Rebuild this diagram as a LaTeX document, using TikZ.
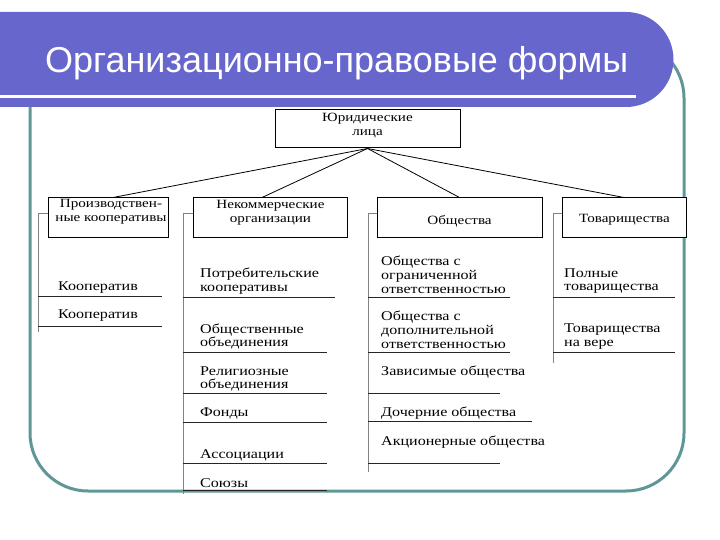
\documentclass[tikz,border=0pt]{standalone}
\usepackage{fontspec}
\setmainfont{Liberation Serif}[FakeStretch=1.2]
\newfontfamily\titlefont{Liberation Sans}
\usetikzlibrary{positioning}
\definecolor{barblue}{RGB}{102,102,204}
\definecolor{frameteal}{RGB}{95,150,150}
\definecolor{spinegray}{RGB}{130,130,130}

\begin{document}
\begin{tikzpicture}[x=1pt, y=-1pt,
  bx/.style={draw=black, line width=1pt, fill=white, inner sep=0pt, minimum height=39pt},
  bt/.style={font=\fontsize{12.6}{14}\selectfont, align=center, inner sep=0pt},
  it/.style={font=\fontsize{13.4}{13.8}\selectfont, align=left, anchor=west, inner sep=0pt},
  ul/.style={draw=black!85, line width=0.9pt},
  sp/.style={draw=spinegray, line width=0.8pt},
  ln/.style={draw=black, line width=0.8pt}]
  \useasboundingbox (0,0) rectangle (720,540);
  % frame and title bar
  \draw[frameteal, line width=3pt, rounded corners=58pt] (30,40) rectangle (684,491);
  \fill[barblue] (0,12) -- (626,12) arc[start angle=-90, end angle=90, radius=47.5] -- (0,107) -- cycle;
  \draw[white, line width=2.5pt] (0,96.5) -- (636,96.5);
  \node[anchor=base west, text=white, font=\titlefont\fontsize{36}{40}\selectfont, inner sep=0pt] (title) at (45,73) {Организационно-правовые формы};
  % boxes
  \node[bx, minimum width=185pt, minimum height=38pt] (jur) at (367.5,129) {};
  \node[bt] (jurt) at (367.5,125.5) {Юридические\\лица};
  \node[bx, minimum width=120pt] (prod) at (108,217.5) {};
  \node[bt] (prodt) at (111,211.5) {Производствен-\\ные кооперативы};
  \node[bx, minimum width=154pt] (nko) at (270,217.5) {};
  \node[bt] (nkot) at (270.5,213) {Некоммерческие\\организации};
  \node[bx, minimum width=165pt] (obs) at (459.5,217.5) {};
  \node[bt] (obst) at (459.5,221) {Общества};
  \node[bx, minimum width=124pt] (tov) at (624,217.5) {};
  \node[bt] (tovt) at (624.5,220) {Товарищества};
  \draw[ln] (jur.south) -- ([xshift=5pt]prod.north); \draw[ln] (jur.south) -- ([xshift=-8pt]nko.north);
  \draw[ln] (jur.south) -- (obs.north); \draw[ln] (jur.south) -- (tov.north);
  % spines
  \draw[sp] ([yshift=4.5pt]prod.west) -| (38,332);
  \draw[sp] ([yshift=4.5pt]nko.west) -| (183,494);
  \draw[sp] ([yshift=4.5pt]obs.west) -| (368,472);
  \draw[sp] ([yshift=4.5pt]tov.west) -| (553,363);
  % first column
  \node[it] (k1) at (58,288) {Кооператив}; \draw[ul] (38,296) -- (162,296);
  \node[it] (k2) at (58,316) {Кооператив}; \draw[ul] (38,326) -- (162,326);
  % second column
  \node[it] (n1) at (200,281.5) {Потребительские\\кооперативы}; \draw[ul] (183,297) -- (335,297);
  \node[it] (n2) at (200,336.5) {Общественные\\объединения}; \draw[ul] (183,352) -- (327,352);
  \node[it] (n3) at (200,379) {Религиозные\\объединения}; \draw[ul] (183,393) -- (327,393);
  \node[it] (n4) at (200,413) {Фонды}; \draw[ul] (183,422) -- (327,422);
  \node[it] (n5) at (200,455) {Ассоциации}; \draw[ul] (183,463) -- (327,463);
  \node[it] (n6) at (200,483) {Союзы}; \draw[ul] (183,490) -- (327,490);
  % third column
  \node[it] (o1) at (381,274.5) {Общества с\\ограниченной\\ответственностью}; \draw[ul] (368,297) -- (510,297);
  \node[it] (o2) at (381,329.5) {Общества с\\дополнительной\\ответственностью}; \draw[ul] (368,352) -- (510,352);
  \node[it] (o3) at (381,372) {Зависимые общества}; \draw[ul] (368,393) -- (500,393);
  \node[it] (o4) at (381,413) {Дочерние общества}; \draw[ul] (368,421) -- (532,421);
  \node[it] (o5) at (381,442) {Акционерные общества}; \draw[ul] (368,463) -- (500,463);
  % fourth column
  \node[it] (t1) at (564,281) {Полные\\товарищества}; \draw[ul] (553,297) -- (675,297);
  \node[it] (t2) at (564,336.5) {Товарищества\\на вере}; \draw[ul] (553,352) -- (675,352);
\end{tikzpicture}
\end{document}
